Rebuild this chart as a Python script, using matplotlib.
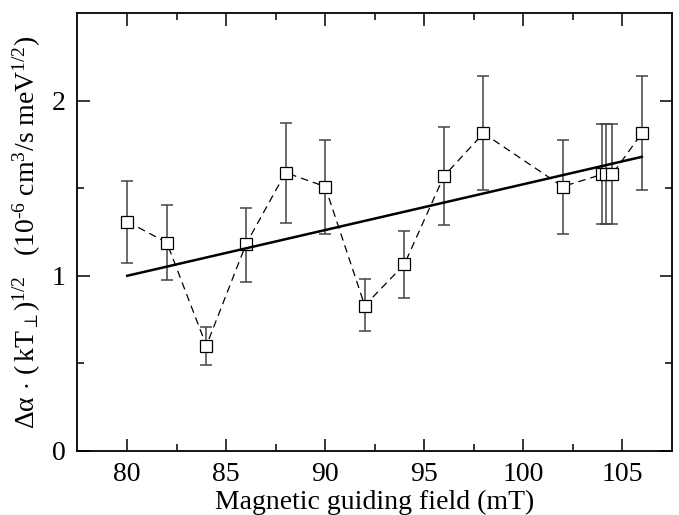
import matplotlib
matplotlib.use("Agg")
import matplotlib.pyplot as plt
import numpy as np

# Data
field = [80, 82, 84, 86, 88, 90, 92, 94, 96, 98, 102, 104.0, 104.2, 104.5, 106]
value = [1.31, 1.19, 0.60, 1.18, 1.59, 1.51, 0.83, 1.065, 1.57, 1.815, 1.51, 1.58, 1.58, 1.58, 1.815]
err_low = [1.073, 0.975, 0.491, 0.964, 1.303, 1.237, 0.684, 0.873, 1.288, 1.488, 1.237, 1.297, 1.297, 1.297, 1.488]
err_high = [1.543, 1.404, 0.707, 1.385, 1.874, 1.777, 0.983, 1.254, 1.851, 2.143, 1.777, 1.865, 1.865, 1.865, 2.143]
fit_x = [80, 106]
fit_y = [1.00, 1.68]

x_ticks = [80, 85, 90, 95, 100, 105]
y_ticks = [0, 1, 2]

plt.rcParams['font.family'] = ['Liberation Serif', 'DejaVu Serif']
plt.rcParams['mathtext.fontset'] = 'custom'
plt.rcParams['mathtext.rm'] = 'Liberation Serif'
plt.rcParams['mathtext.it'] = 'Liberation Serif:italic'
plt.rcParams['mathtext.bf'] = 'Liberation Serif:bold'

fig = plt.figure(figsize=(6.79, 5.15), dpi=100)
ax = fig.add_axes([0.113, 0.1249, 0.876, 0.849])

v = np.array(value)
yerr = [v - np.array(err_low), np.array(err_high) - v]
ax.errorbar(field, value, yerr=yerr, fmt='none', ecolor='#444444', elinewidth=1.1,
            capsize=4, capthick=1.1, zorder=2)
ax.plot(field, value, linestyle=(0, (6, 4)), color='black', lw=0.9, zorder=3)
ax.plot(field, value, linestyle='none', marker='s', markersize=8, markerfacecolor='white',
        markeredgecolor='black', markeredgewidth=0.9, zorder=4)
ax.plot(fit_x, fit_y, color='black', lw=1.8, zorder=5)

ax.set_xlim(77.45, 107.5)
ax.set_ylim(0, 2.5)
ax.set_xticks(x_ticks)
ax.set_yticks(y_ticks)
ax.set_xticks(np.arange(82.5, 107.5, 5), minor=True)
ax.set_yticks([0.5, 1.5], minor=True)
ax.tick_params(which='both', direction='in', top=True, right=True, labelsize=20, width=1.1)
ax.tick_params(which='major', length=9, pad=8)
ax.tick_params(which='minor', length=5)
for s in ax.spines.values():
    s.set_linewidth(1.3)

ax.set_xlabel('Magnetic guiding field (mT)', fontsize=20, labelpad=2)
ax.set_ylabel(r'$\mathrm{Δα\,\cdot\,(\,kT_{\perp})^{1/2}\ \ \ (10^{‐6}\ cm^{3}/s\ meV^{1/2})}$',
              fontsize=20, labelpad=6)

fig.savefig('out.png', dpi=100)
